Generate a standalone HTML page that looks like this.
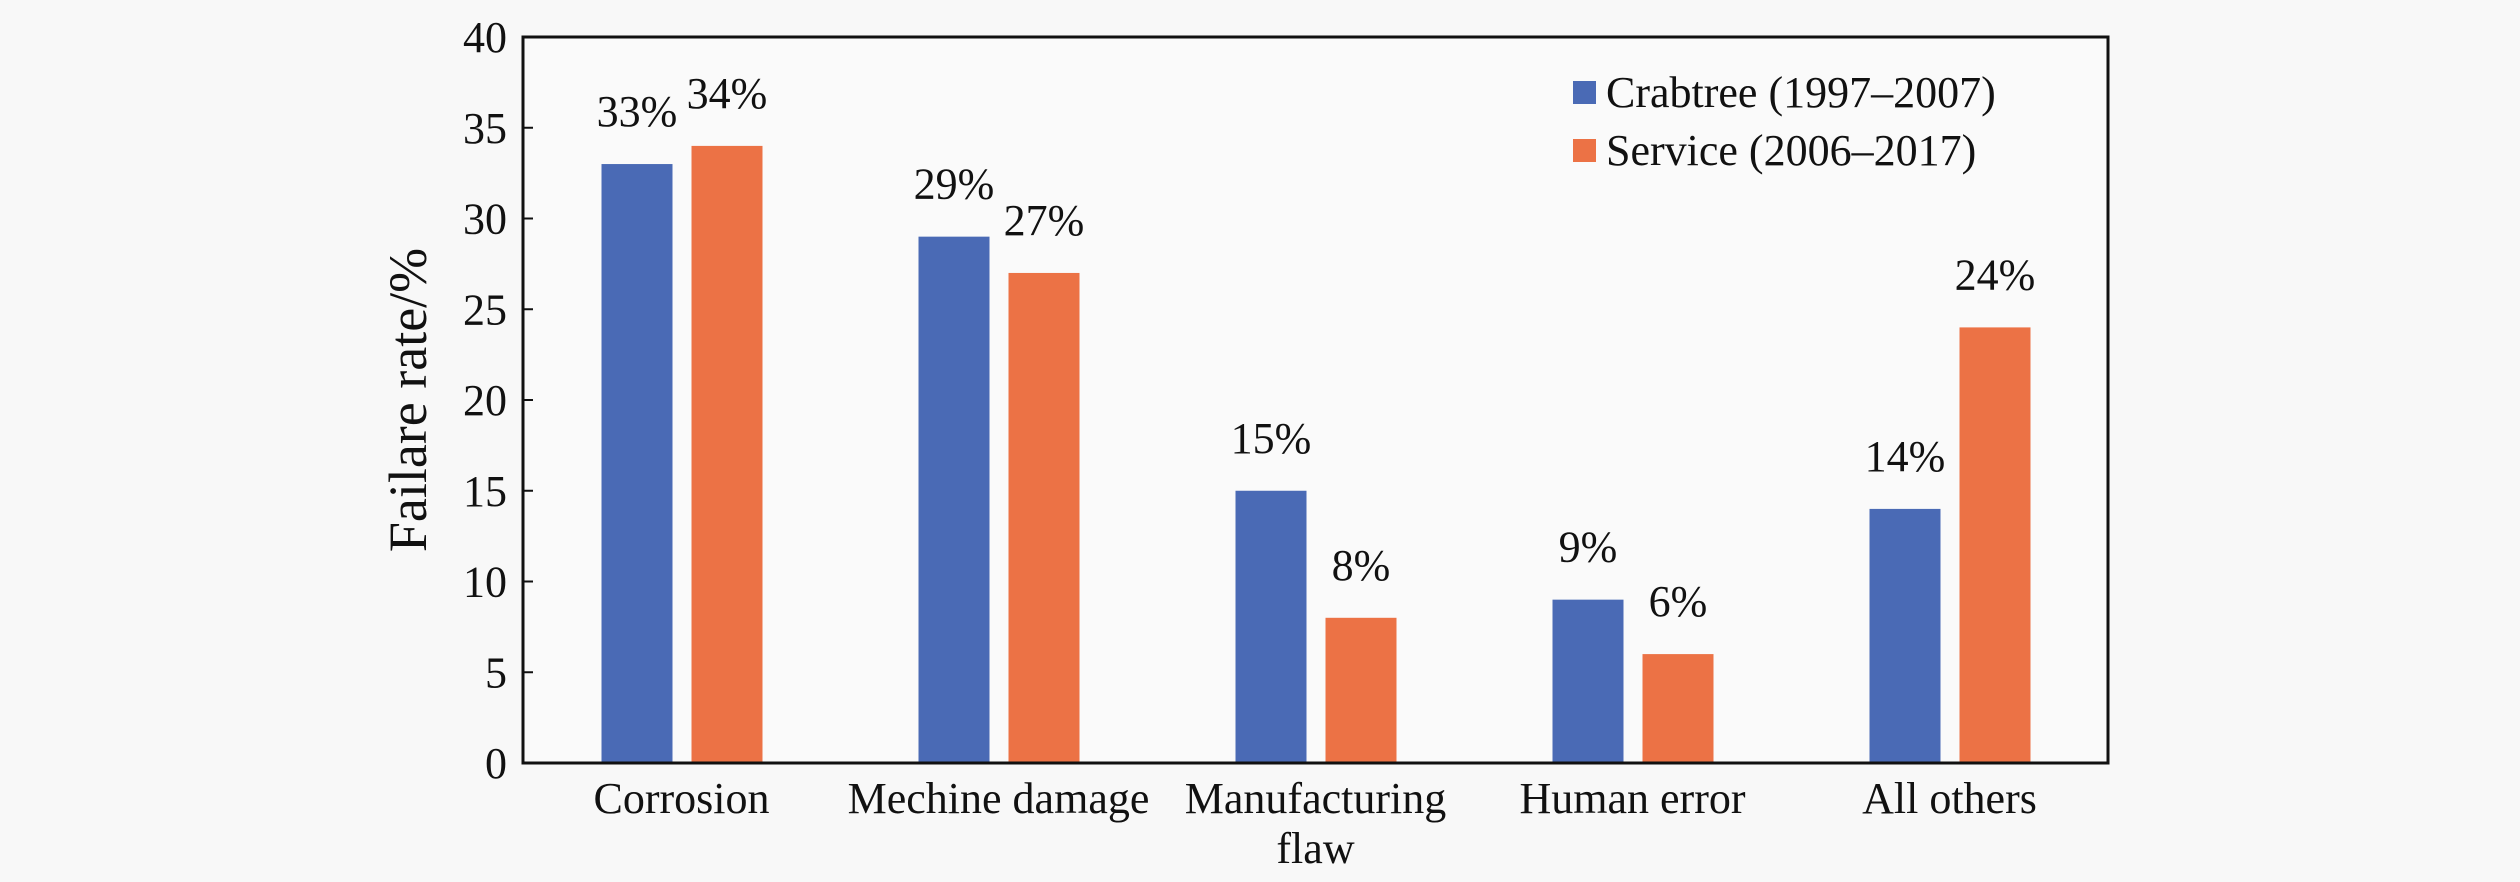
<!DOCTYPE html>
<html><head><meta charset="utf-8"><style>
html,body{margin:0;padding:0;background:#f8f8f8;}
svg{display:block;font-family:"Liberation Serif",serif;}
</style></head><body>
<svg id="chart" width="2520" height="882" viewBox="0 0 2520 882" xmlns="http://www.w3.org/2000/svg">
<rect x="523" y="37" width="1585" height="726" fill="#fafafa"/>
<g id="bars"></g>
<g id="axes"></g>
<text x="0" y="0" transform="translate(426,400) rotate(-90)" text-anchor="middle" font-size="54" fill="#111">Failare rate/%</text>
<g>
<g>
<rect x="1573" y="81" width="23" height="23" fill="#4a6ab5"/>
<text x="1606" y="107" font-size="44" fill="#111">Crabtree (1997–2007)</text>
</g>
<g>
<rect x="1573" y="139" width="23" height="23" fill="#ec7245"/>
<text x="1606" y="165" font-size="44" fill="#111">Service (2006–2017)</text>
</g>
</g>
</svg>
<script>
const categories = [["Corrosion"], ["Mechine damage"], ["Manufacturing", "flaw"], ["Human error"], ["All others"]];
const crabtree = [33, 29, 15, 9, 14];
const service = [34, 27, 8, 6, 24];
const yTicks = [0, 5, 10, 15, 20, 25, 30, 35, 40];

const NS = "http://www.w3.org/2000/svg";
const L = 523, R = 2108, T = 37, B = 763, YMAX = 40;
const y = v => B - (v / YMAX) * (B - T);
const band = (R - L) / categories.length;
const xc = i => L + band * (i + 0.5);
const bars = document.getElementById("bars");
const axes = document.getElementById("axes");
function mk(tag, attrs, parent) {
  const e = document.createElementNS(NS, tag);
  for (const k in attrs) e.setAttribute(k, attrs[k]);
  parent.appendChild(e);
  return e;
}
const series = [{d: crabtree, c: "#4a6ab5", off: -80, n: "crabtree"}, {d: service, c: "#ec7245", off: 10, n: "service"}];
series.forEach(s => {
  s.d.forEach((v, i) => {
    const r = mk("rect", {x: xc(i) + s.off, y: y(v), width: 71, height: B - y(v), fill: s.c}, bars);
    
    
    const t = mk("text", {x: xc(i) + s.off + 35.5, y: y(v) - 38, "text-anchor": "middle", "font-size": "44", fill: "#111"}, bars);
    t.textContent = v + "%";
    
    
  });
});
const frame = mk("path", {d: `M${L},${T} L${L},${B} L${R},${B} L${R},${T} Z`, fill: "none", stroke: "#111", "stroke-width": 3}, axes);


yTicks.forEach(v => {
  const tk = mk("line", {x1: L, x2: L + 10, y1: y(v), y2: y(v), stroke: "#111", "stroke-width": 2}, axes);
  
  
  const t = mk("text", {x: 507, y: y(v) + 15, "text-anchor": "end", "font-size": "44", fill: "#111"}, axes);
  t.textContent = v;
  
  
});
categories.forEach((lines, i) => {
  lines.forEach((ln, j) => {
    const t = mk("text", {x: xc(i), y: 813 + j * 50, "text-anchor": "middle", "font-size": "44", fill: "#111"}, axes);
    t.textContent = ln;
    
    
  });
});
</script>
</body></html>
